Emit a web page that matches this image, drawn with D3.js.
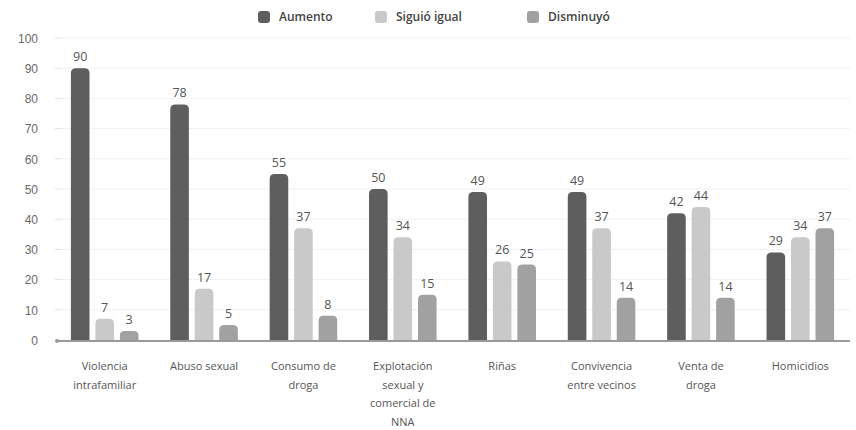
<!DOCTYPE html>
<html>
<head>
<meta charset="utf-8">
<script src="https://cdn.jsdelivr.net/npm/d3@7"></script>
<style>
  html, body { margin: 0; padding: 0; background: #fff; }
  svg { display: block; font-family: "Open Sans", Lato, sans-serif; }
</style>
</head>
<body>
<svg id="chart" width="856" height="430"></svg>
<script>
// Categories (x axis) and their wrapped labels
const categories = [
  "Violencia intrafamiliar",
  "Abuso sexual",
  "Consumo de droga",
  "Explotación sexual y comercial de NNA",
  "Riñas",
  "Convivencia entre vecinos",
  "Venta de droga",
  "Homicidios"
];
const categoryLines = [
  ["Violencia", "intrafamiliar"],
  ["Abuso sexual"],
  ["Consumo de", "droga"],
  ["Explotación", "sexual y", "comercial de", "NNA"],
  ["Riñas"],
  ["Convivencia", "entre vecinos"],
  ["Venta de", "droga"],
  ["Homicidios"]
];

// Series
const seriesNames = ["Aumento", "Siguió igual", "Disminuyó"];
const aumento    = [90, 78, 55, 50, 49, 49, 42, 29];
const siguioIgual = [7, 17, 37, 34, 26, 37, 44, 34];
const disminuyo  = [3, 5, 8, 15, 25, 14, 14, 37];
const seriesValues = [aumento, siguioIgual, disminuyo];
const seriesColors = ["#5e5e5e", "#c9c9c9", "#a1a1a1"];

// Y ticks
const yTicks = [0, 10, 20, 30, 40, 50, 60, 70, 80, 90, 100];

const svg = d3.select("#chart");
const margin = { left: 55, right: 6, top: 38, bottom: 90 };
const W = 856, H = 430;
const y0 = 340;

const x = d3.scaleBand()
  .domain(categories)
  .range([margin.left, W - margin.right])
  .paddingInner(0.32)
  .paddingOuter(0.16);

const xs = d3.scaleBand()
  .domain(seriesNames)
  .range([0, x.bandwidth()])
  .paddingInner(0.24);

const y = d3.scaleLinear().domain([0, 100]).range([y0, margin.top]);

// Gridlines
svg.append("g")
  .selectAll("line")
  .data(yTicks.filter(d => d > 0))
  .join("line")
  .attr("x1", margin.left + 7)
  .attr("x2", W - margin.right)
  .attr("y1", d => y(d))
  .attr("y2", d => y(d))
  .attr("stroke", "#f1f1f1")
  .attr("stroke-width", 1);

// Y axis (labels and short ticks)
const yAxis = d3.axisLeft(y).tickValues(yTicks).tickSize(0).tickPadding(0);
const gy = svg.append("g").attr("transform", `translate(${margin.left - 17},0)`).call(yAxis);
gy.select(".domain").remove();
gy.selectAll("text")
  .attr("fill", "#6a6a6a")
  .attr("font-size", 12)
  .attr("dy", "0.36em");
svg.append("g")
  .selectAll("line")
  .data(yTicks)
  .join("line")
  .attr("x1", margin.left)
  .attr("x2", margin.left + 7)
  .attr("y1", d => y(d))
  .attr("y2", d => y(d))
  .attr("stroke", "#e3e3e3")
  .attr("stroke-width", 1);

// Bars
const groups = svg.append("g")
  .selectAll("g")
  .data(categories)
  .join("g")
  .attr("transform", d => `translate(${x(d)},0)`);

const r = 5;
function barPath(xp, w, top, bottom) {
  const rr = Math.min(r, (bottom - top) / 2, w / 2);
  return `M${xp},${bottom}` +
    `V${top + rr}` +
    `Q${xp},${top} ${xp + rr},${top}` +
    `H${xp + w - rr}` +
    `Q${xp + w},${top} ${xp + w},${top + rr}` +
    `V${bottom}Z`;
}

groups.each(function(cat, ci) {
  const g = d3.select(this);
  seriesNames.forEach((s, si) => {
    const v = seriesValues[si][ci];
    g.append("path")
      .attr("d", barPath(xs(s), xs.bandwidth(), y(v), y0))
      .attr("fill", seriesColors[si]);
    g.append("text")
      .attr("x", xs(s) + xs.bandwidth() / 2)
      .attr("y", y(v) - 7)
      .attr("text-anchor", "middle")
      .attr("font-size", 12.5)
      .attr("fill", "#555")
      .text(v);
  });
});

// Baseline
svg.append("line")
  .attr("x1", margin.left + 2)
  .attr("x2", W - margin.right)
  .attr("y1", y0 + 1)
  .attr("y2", y0 + 1)
  .attr("stroke", "#9a9a9a")
  .attr("stroke-width", 2);
svg.append("circle")
  .attr("cx", margin.left + 2)
  .attr("cy", y0 + 1)
  .attr("r", 2)
  .attr("fill", "#9a9a9a");

// X labels
const xl = svg.append("g")
  .selectAll("text")
  .data(categories)
  .join("text")
  .attr("x", d => x(d) + x.bandwidth() / 2)
  .attr("y", 370)
  .attr("text-anchor", "middle")
  .attr("font-size", 11)
  .attr("fill", "#555");
xl.each(function(d, i) {
  const t = d3.select(this);
  categoryLines[i].forEach((line, li) => {
    t.append("tspan")
      .attr("x", x(d) + x.bandwidth() / 2)
      .attr("dy", li === 0 ? 0 : 18.5)
      .text(line);
  });
});

// Legend
const legendX = [258, 375, 527];
const legend = svg.append("g")
  .selectAll("g")
  .data(seriesNames)
  .join("g")
  .attr("transform", (d, i) => `translate(${legendX[i]},11)`);
legend.append("rect")
  .attr("width", 12)
  .attr("height", 12)
  .attr("rx", 3)
  .attr("fill", (d, i) => seriesColors[i]);
legend.append("text")
  .attr("x", 21)
  .attr("y", 6)
  .attr("dy", "0.35em")
  .attr("font-size", 12)
  .attr("font-weight", 600)
  .attr("fill", "#444")
  .text(d => d);
</script>
</body>
</html>
